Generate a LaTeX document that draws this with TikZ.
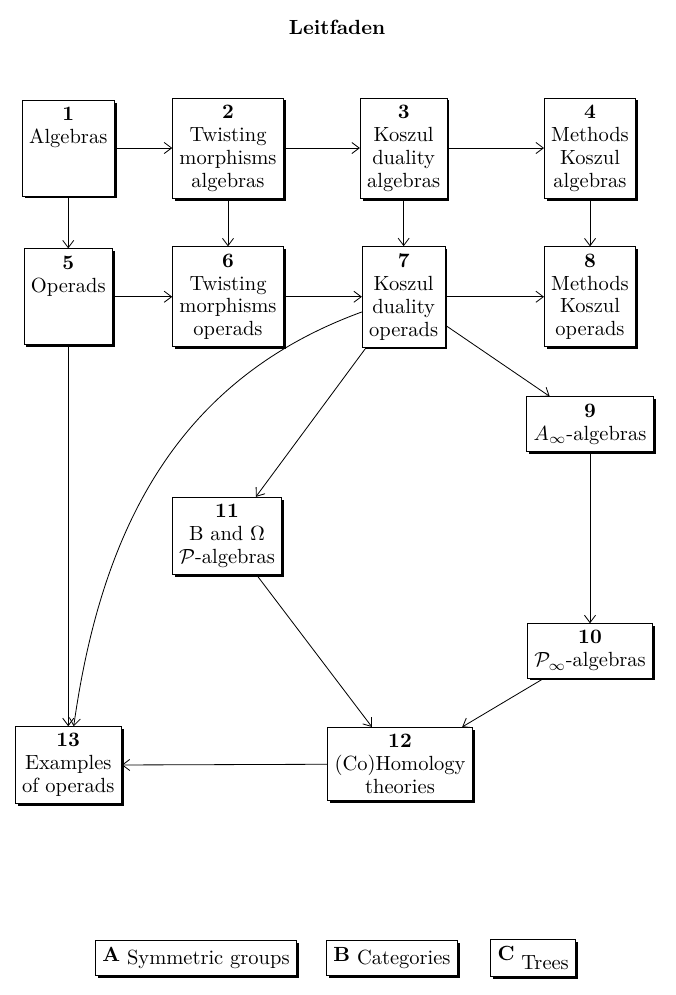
\documentclass[tikz,border=0pt]{standalone}
\usepackage{amsmath,amssymb}
\usetikzlibrary{shadows,arrows.meta}

\begin{document}
\begin{tikzpicture}[>={Straight Barb[length=3.6pt,width=5.4pt]},
    chap/.style={draw, fill=white, align=center, inner sep=3.33pt,
      execute at begin node={\setlength{\baselineskip}{11.2pt}},
      drop shadow={shadow xshift=1.2pt, shadow yshift=-1.2pt, opacity=1, fill=black}}]
            \useasboundingbox (0,0) rectangle (11.572,17.058);
            % Title
            \node (title) at (5.778,16.58) {\textbf{Leitfaden}};

            % Algebras row
            \node[chap] (c1) at (1.17,14.52) {\textbf{1}\\Algebras\\~\\~};
            \node[chap] (c2) at (3.909,14.52) {\textbf{2}\\Twisting\\morphisms\\algebras};
            \node[chap] (c3) at (6.92,14.52) {\textbf{3}\\Koszul\\duality\\algebras};
            \node[chap] (c4) at (10.115,14.52) {\textbf{4}\\Methods\\Koszul\\algebras};

            % Operads row
            \node[chap] (c5) at (1.17,11.97) {\textbf{5}\\Operads\\~\\~};
            \node[chap] (c6) at (3.909,11.97) {\textbf{6}\\Twisting\\morphisms\\operads};
            \node[chap] (c7) at (6.92,11.97) {\textbf{7}\\Koszul\\duality\\operads};
            \node[chap] (c8) at (10.115,11.97) {\textbf{8}\\Methods\\Koszul\\operads};

            % Homotopy part
            \node[chap] (c9) at (10.115,9.79) {\textbf{9}\\$A_\infty$-algebras};
            \node[chap] (c10) at (10.115,5.90) {\textbf{10}\\$\mathcal{P}_\infty$-algebras};
            \node[chap] (c11) at (3.892,7.87) {\textbf{11}\\B and $\Omega$\\$\mathcal{P}$-algebras};
            \node[chap] (c12) at (6.858,3.96) {\textbf{12}\\(Co)Homology\\theories};
            \node[chap] (c13) at (1.17,3.94) {\textbf{13}\\Examples\\of operads};

            % Appendices
            \node[chap] (appA) at (3.36,0.634) {\textbf{A} \raisebox{-1.5pt}{Symmetric groups}};
            \node[chap] (appB) at (6.72,0.634) {\textbf{B} \raisebox{-1.5pt}{Categories}};
            \node[chap] (appC) at (9.14,0.634) {\textbf{C} \raisebox{-4.3pt}{Trees}};

            % Arrows
            \draw[->] (c1) -- (c2);
            \draw[->] (c2) -- (c3);
            \draw[->] (c3) -- (c4);
            \draw[->] (c1) -- (c5);
            \draw[->] (c2) -- (c6);
            \draw[->] (c3) -- (c7);
            \draw[->] (c4) -- (c8);
            \draw[->] (c5) -- (c6);
            \draw[->] (c6) -- (c7);
            \draw[->] (c7) -- (c8);
            \draw[->] (c7) -- (c9);
            \draw[->] (c7) -- (c11);
            \draw[->] (c9) -- (c10);
            \draw[->] (c11) -- (c12);
            \draw[->] (c10) -- (c12);
            \draw[->] (c12) -- (c13);
            \draw[->] (c5) -- (c13);
            \draw[->] (c7) to[out=200, in=82] (c13);
        \end{tikzpicture}
\end{document}
